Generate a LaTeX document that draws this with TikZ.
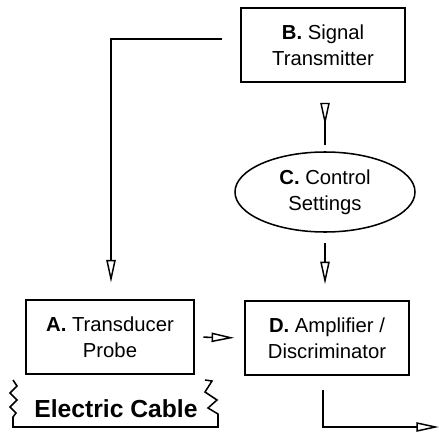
\documentclass[tikz,border=0pt]{standalone}
\usepackage{fontspec}
\setmainfont{Liberation Sans}
\usetikzlibrary{arrows.meta,shapes.geometric}
\tikzset{
  unit/.style={draw,line width=1.15pt,align=center,inner sep=0pt},
  arr/.style={line width=1.15pt,-{Triangle[open,length=17pt,width=7pt,line width=1.1pt]}},
  backarr/.style={line width=1.15pt,-{Triangle[open,reversed,length=17pt,width=7pt,line width=1.1pt]}},
}
\begin{document}
\begin{tikzpicture}[x=0.75pt,y=-0.75pt,font=\fontsize{15.2}{19.5}\selectfont]
\useasboundingbox (0,0) rectangle (439,432);
% blocks
\node[unit,minimum width=123pt,minimum height=55.5pt] (B) at (323,45) {\textbf{B.} Signal\\Transmitter};
\node[unit,ellipse,minimum width=135pt,minimum height=60pt] (C) at (325,192) {\textbf{C.} Control\\Settings};
\node[unit,minimum width=126pt,minimum height=55.5pt] (A) at (110,337) {\textbf{A.} Transducer\\Probe};
\node[unit,minimum width=123pt,minimum height=55.5pt] (D) at (327,338) {\textbf{D.} Amplifier /\\Discriminator};
\coordinate (bout) at (222,39);
\coordinate (out) at (439,427);
% links
\draw[arr,shorten >=12.5pt] (bout) -| ([xshift=0.75pt]A.north);
\draw[backarr,shorten <=5pt,shorten >=15pt] (C.north) -- (C.north |- B.south);
\draw[arr,shorten <=8pt,shorten >=12pt] (C.south) -- (C.south |- D.north);
\draw[arr,shorten <=6.5pt,shorten >=7.5pt] (A.east) -- (D.west);
\draw[arr,shorten <=11pt] ([xshift=-3pt]D.south) |- (out);
% cable
\draw[line width=1.15pt] (13,380) -- (17,386) -- (10,393) -- (17,400) -- (10,407) -- (16,413) -- (13,417)
  -- (13,427) -- (218,427) -- (218,414) -- (208,408) -- (217,400) -- (205,392) -- (212,381) -- (205,380);
\node[font=\fontsize{18.5}{20}\selectfont\bfseries] (cable) at (116,409) {Electric Cable};
\end{tikzpicture}
\end{document}
